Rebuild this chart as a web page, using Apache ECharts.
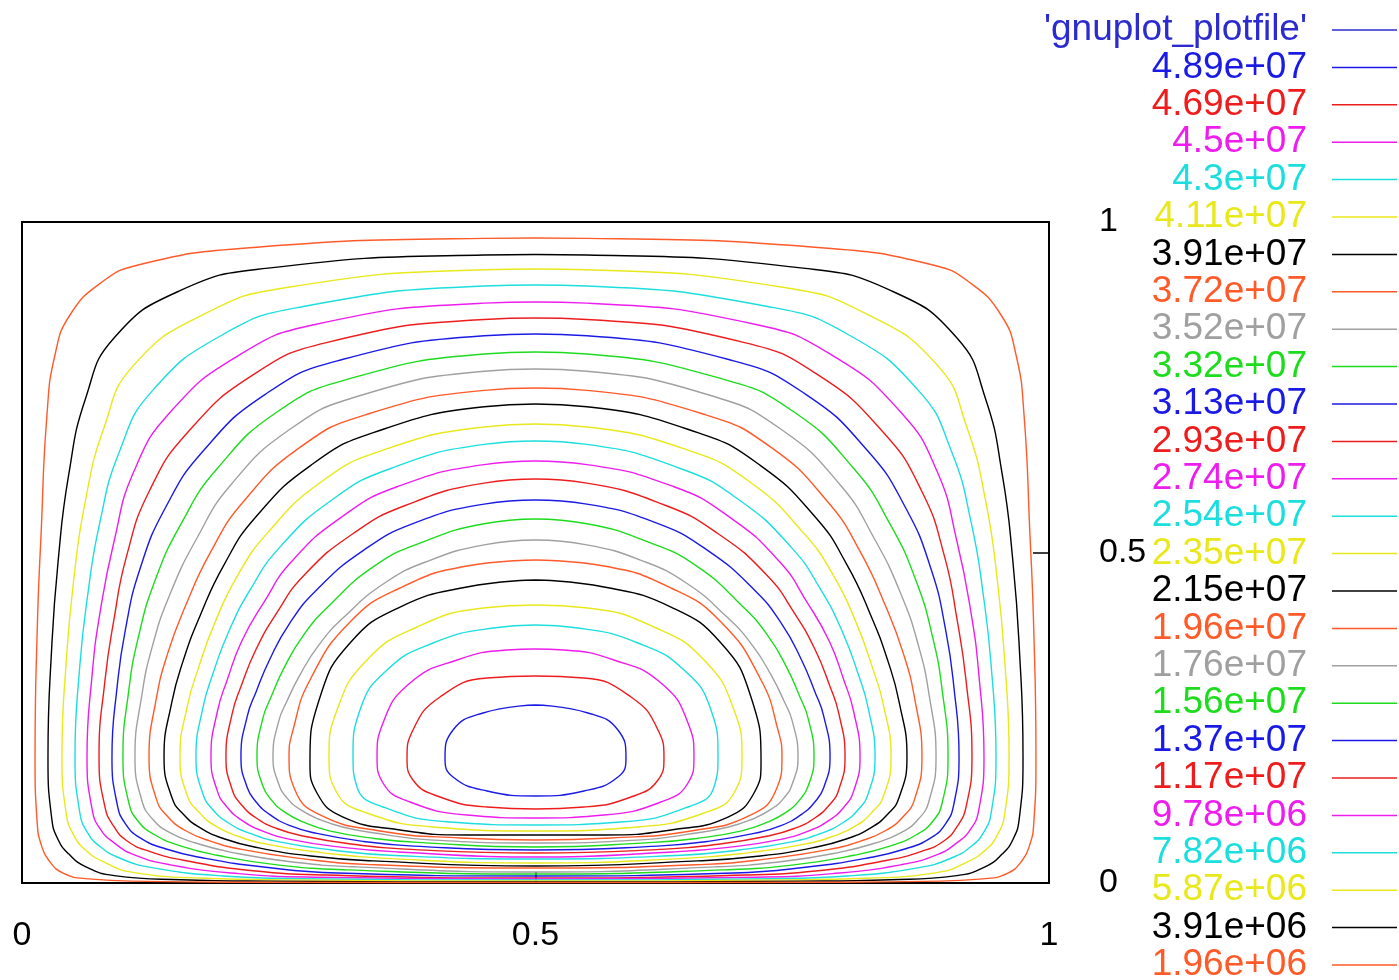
<!DOCTYPE html>
<html>
<head>
<meta charset="utf-8">
<script src="https://cdn.jsdelivr.net/npm/echarts@6/dist/echarts.min.js"></script>
<style>
html,body{margin:0;padding:0;background:#ffffff;}
#chart{width:1399px;height:980px;}
</style>
</head>
<body>
<div id="chart"></div>
<script>
// ---------------- data ----------------
const xTickLabels = ['0', '0.5', '1'];
const yTickLabels = ['0', '0.5', '1'];
const plotfileName = "'gnuplot_plotfile'";

// contour levels as listed in the key (top to bottom)
const levelLabels = ['4.89e+07','4.69e+07','4.5e+07','4.3e+07','4.11e+07','3.91e+07','3.72e+07',
  '3.52e+07','3.32e+07','3.13e+07','2.93e+07','2.74e+07','2.54e+07','2.35e+07','2.15e+07',
  '1.96e+07','1.76e+07','1.56e+07','1.37e+07','1.17e+07','9.78e+06','7.82e+06','5.87e+06',
  '3.91e+06','1.96e+06'];

// Each contour is symmetric about x = 0.5; points of its left half,
// from the top centre, round the left side, to the bottom centre. [x, y]
const C01 = [[.5,.9758],[.45,.9753],[.2125,.960],[.113,.9349],[.0779,.9092],[.0467,.8593],[.0321,.7988],[.0243,.708],[.0187,.5323],[.0149,.387],[.0127,.1906],[.0149,.0887],[.0187,.058],[.026,.0344],[.0406,.0145],[.0645,.0063],[.1208,.0025],[.2125,.0012],[.5,.0008]];
const C02 = [[.5,.9508],[.45,.95],[.2396,.9302],[.1544,.8965],[.0898,.8249],[.0622,.7346],[.0454,.6169],[.0351,.4857],[.029,.3584],[.0253,.1906],[.029,.097],[.0351,.0659],[.0454,.0441],[.0622,.0245],[.0898,.0112],[.1544,.005],[.2396,.0029],[.5,.0015]];
const C03 = [[.5,.9289],[.45,.9277],[.2578,.9009],[.1782,.8612],[.108,.782],[.0799,.689],[.0613,.5748],[.0502,.4565],[.0433,.3405],[.0389,.1906],[.0433,.1028],[.0502,.0729],[.0613,.0506],[.0799,.0316],[.108,.0161],[.1782,.0072],[.2578,.0047],[.5,.003]];
const C04 = [[.5,.9047],[.45,.9031],[.2728,.8718],[.1961,.8302],[.1266,.7441],[.0951,.6536],[.0755,.5434],[.0634,.4293],[.0562,.3271],[.0516,.1906],[.0562,.1073],[.0634,.0773],[.0755,.0559],[.0951,.0378],[.1266,.0233],[.1961,.0106],[.2728,.0065],[.5,.0045]];
const C05 = [[.5,.879],[.45,.8772],[.2853,.845],[.211,.7982],[.1445,.7126],[.1088,.6221],[.0895,.5159],[.0761,.4103],[.0683,.3152],[.0633,.1906],[.0683,.1113],[.0761,.0818],[.0895,.061],[.1088,.043],[.1445,.0275],[.211,.0142],[.2853,.0088],[.5,.0061]];
const C06 = [[.5,.8548],[.45,.8526],[.2964,.8176],[.2249,.7686],[.1614,.6818],[.1241,.5934],[.1017,.4938],[.0893,.3964],[.0808,.3066],[.075,.1906],[.0808,.1149],[.0893,.0859],[.1017,.0643],[.1241,.0479],[.1614,.0332],[.2249,.0185],[.2964,.012],[.5,.0076]];
const C07 = [[.5,.8306],[.45,.8279],[.307,.7899],[.2372,.7397],[.1766,.6539],[.1395,.5673],[.1147,.4742],[.1006,.3827],[.0927,.2978],[.0876,.1906],[.0927,.1189],[.1006,.0899],[.1147,.0687],[.1395,.0518],[.1766,.0378],[.2372,.0238],[.307,.0152],[.5,.0106]];
const C08 = [[.5,.8033],[.45,.8002],[.3166,.7619],[.2486,.7129],[.1901,.627],[.155,.5437],[.1291,.4558],[.1129,.3692],[.1039,.2904],[.0983,.1906],[.1039,.1222],[.1129,.0938],[.1291,.073],[.155,.0558],[.1901,.0419],[.2486,.0275],[.3166,.0199],[.5,.0136]];
const C09 = [[.5,.7776],[.45,.7742],[.3254,.7356],[.2595,.6849],[.203,.6017],[.17,.5208],[.1439,.4361],[.1269,.358],[.1167,.2842],[.11,.1906],[.1167,.1249],[.1269,.0971],[.1439,.0762],[.17,.0601],[.203,.0468],[.2595,.0325],[.3254,.0244],[.5,.0166]];
const C10 = [[.5,.7489],[.45,.7452],[.3342,.7083],[.2706,.659],[.2151,.576],[.1836,.5005],[.1589,.4182],[.1416,.3462],[.1307,.2781],[.1237,.1906],[.1307,.1277],[.1416,.1009],[.1589,.0794],[.1836,.0633],[.2151,.0505],[.2706,.0373],[.3342,.0282],[.5,.0227]];
const C11 = [[.5,.7247],[.45,.7204],[.342,.6813],[.2812,.6319],[.2274,.5533],[.1967,.4814],[.1736,.4051],[.1569,.336],[.1459,.2737],[.1383,.1906],[.1459,.1296],[.1569,.1043],[.1736,.0833],[.1967,.0669],[.2274,.0541],[.2812,.0408],[.342,.0334],[.5,.0257]];
const C12 = [[.5,.6944],[.45,.6899],[.3501,.6542],[.2915,.6071],[.2391,.5297],[.2093,.4636],[.1874,.3924],[.1719,.3258],[.1611,.2685],[.1538,.1906],[.1611,.1316],[.1719,.1078],[.1874,.0871],[.2093,.0713],[.2391,.0585],[.2915,.046],[.3501,.0377],[.5,.0303]];
const C13 = [[.5,.6687],[.45,.6635],[.3583,.6267],[.3016,.5794],[.2507,.5074],[.2221,.4433],[.2008,.3787],[.1859,.3165],[.1761,.2648],[.1694,.1906],[.1761,.1349],[.1859,.1109],[.2008,.0911],[.2221,.075],[.2507,.0622],[.3016,.0499],[.3583,.0419],[.5,.0363]];
const C14 = [[.5,.6384],[.45,.633],[.3658,.5998],[.3121,.5547],[.2625,.4863],[.2349,.4229],[.2138,.3653],[.1998,.3071],[.1904,.2606],[.184,.1906],[.1904,.1382],[.1998,.1147],[.2138,.095],[.2349,.0783],[.2625,.0657],[.3121,.0539],[.3658,.047],[.5,.0393]];
const C15 = [[.5,.6112],[.45,.605],[.3731,.5711],[.3225,.5288],[.2749,.466],[.2474,.407],[.2277,.3528],[.2135,.2983],[.2047,.2565],[.1986,.1906],[.2047,.1412],[.2135,.1187],[.2277,.0987],[.2474,.0828],[.2749,.0707],[.3225,.0586],[.3731,.0512],[.5,.0454]];
const C16 = [[.5,.5794],[.45,.5731],[.3812,.544],[.3328,.5035],[.2871,.4437],[.2603,.3921],[.2413,.3385],[.228,.2895],[.2193,.2521],[.2132,.1906],[.2193,.1445],[.228,.1226],[.2413,.1035],[.2603,.0872],[.2871,.075],[.3328,.0628],[.3812,.0558],[.5,.0499]];
const C17 = [[.5,.5507],[.45,.5435],[.3893,.5153],[.343,.4793],[.2993,.42],[.2743,.3754],[.2554,.3263],[.2427,.282],[.2344,.2484],[.2288,.1906],[.2344,.1472],[.2427,.1259],[.2554,.1076],[.2743,.092],[.2993,.0789],[.343,.0674],[.3893,.0611],[.5,.0545]];
const C18 = [[.5,.5189],[.45,.5116],[.3971,.4881],[.3539,.4546],[.313,.4015],[.2886,.3591],[.2704,.314],[.2578,.2746],[.2499,.2446],[.2444,.1906],[.2499,.1501],[.2578,.1292],[.2704,.1117],[.2886,.0968],[.313,.0844],[.3539,.0732],[.3971,.0653],[.5,.0605]];
const C19 = [[.5,.4887],[.4333,.4796],[.3681,.4463],[.3194,.3949],[.2804,.3071],[.2639,.2315],[.26,.1906],[.2658,.1407],[.2902,.1029],[.3486,.0787],[.4265,.0681],[.5,.0651]];
const C20 = [[.5,.4584],[.4333,.4478],[.3681,.4175],[.3194,.3631],[.2902,.2814],[.2804,.1815],[.2872,.1362],[.3126,.0998],[.3681,.0802],[.4333,.0726],[.5,.0726]];
const C21 = [[.5,.4206],[.4489,.416],[.3846,.3873],[.3359,.3374],[.3067,.2617],[.2989,.1906],[.3067,.1362],[.3359,.1059],[.4002,.0847],[.5,.0787]];
const C22 = [[.5,.3903],[.4586,.3858],[.4002,.3631],[.3554,.3222],[.3291,.2617],[.3223,.1936],[.3262,.1452],[.3515,.115],[.4167,.0923],[.5,.0877]];
const C23 = [[.5,.354],[.4722,.3525],[.4236,.3374],[.3778,.3026],[.3515,.2421],[.3457,.1906],[.3515,.1513],[.3778,.1225],[.4333,.1029],[.5,.0983]];
const C24 = [[.5,.3132],[.4528,.3101],[.407,.2814],[.3807,.2315],[.3749,.1891],[.3807,.1558],[.407,.1301],[.4528,.115],[.5,.112]];
const C25 = [[.5,.2693],[.4489,.2572],[.4197,.2315],[.4119,.1891],[.4197,.1604],[.4528,.1392],[.5,.1316]];

// same order as levelLabels
const contourHalves = [C25,C24,C23,C22,C21,C20,C19,C18,C17,C16,C15,C14,C13,C12,C11,C10,C09,C08,C07,C06,C05,C04,C03,C02,C01];

// ---------------- style ----------------
const palette = ['#1a1ae6','#ee1c1c','#ee1cee','#1cdede','#e8e81a','#000000','#ff5a28','#a0a0a0','#1cdc1c'];
const plotfileColor = '#2b2bd0';
const FONT = '"Liberation Sans", Arial, Helvetica, sans-serif';

function closedPath(half) {
  const back = half.slice().reverse().slice(1).map(p => [1 - p[0], p[1]]);
  return half.concat(back);
}

const series = [{
  name: plotfileName, type: 'line', data: [], color: plotfileColor,
  showSymbol: false, symbol: 'none', lineStyle: { width: 1.4, color: plotfileColor }
}];
levelLabels.forEach((lab, j) => {
  const col = palette[j % palette.length];
  series.push({
    name: lab, type: 'line', data: closedPath(contourHalves[j]),
    smooth: 0.5, showSymbol: false, symbol: 'none', color: col,
    lineStyle: { width: 1.4, color: col }, silent: true, z: 2
  });
});

const legendData = [{ name: plotfileName, textStyle: { color: plotfileColor } }]
  .concat(levelLabels.map((l, j) => ({ name: l, textStyle: { color: palette[j % palette.length] } })));

const chart = echarts.init(document.getElementById('chart'), null, { renderer: 'canvas' });
chart.setOption({
  animation: false,
  backgroundColor: '#ffffff',
  grid: { left: 22, right: 350, top: 222, bottom: 97, show: true, borderColor: '#000', borderWidth: 2, backgroundColor: 'transparent' },
  xAxis: {
    type: 'value', min: 0, max: 1, interval: 0.5,
    axisLine: { show: false, onZero: false },
    axisTick: { show: true, inside: true, length: 11, lineStyle: { color: '#000', width: 1.5 } },
    splitLine: { show: false },
    axisLabel: { color: '#000', fontSize: 34, fontFamily: FONT, margin: 36,
      formatter: v => xTickLabels[Math.round(v * 2)] }
  },
  yAxis: {
    type: 'value', position: 'right', min: 0, max: 1, interval: 0.5,
    axisLine: { show: false, onZero: false },
    axisTick: { show: true, inside: true, length: 16, lineStyle: { color: '#000', width: 1.5 } },
    splitLine: { show: false },
    axisLabel: { color: '#000', fontSize: 34, fontFamily: FONT, margin: 50,
      formatter: v => yTickLabels[Math.round(v * 2)] }
  },
  legend: {
    orient: 'vertical', right: 2, top: 11.5, height: 1000, align: 'right', padding: 0,
    itemWidth: 65, itemHeight: 1.5, itemGap: 0.4, icon: 'rect', selectedMode: false,
    textStyle: { fontFamily: FONT, fontSize: 37, padding: [0, 20, 0, 0] },
    data: legendData
  },
  series: series
});
</script>
</body>
</html>
